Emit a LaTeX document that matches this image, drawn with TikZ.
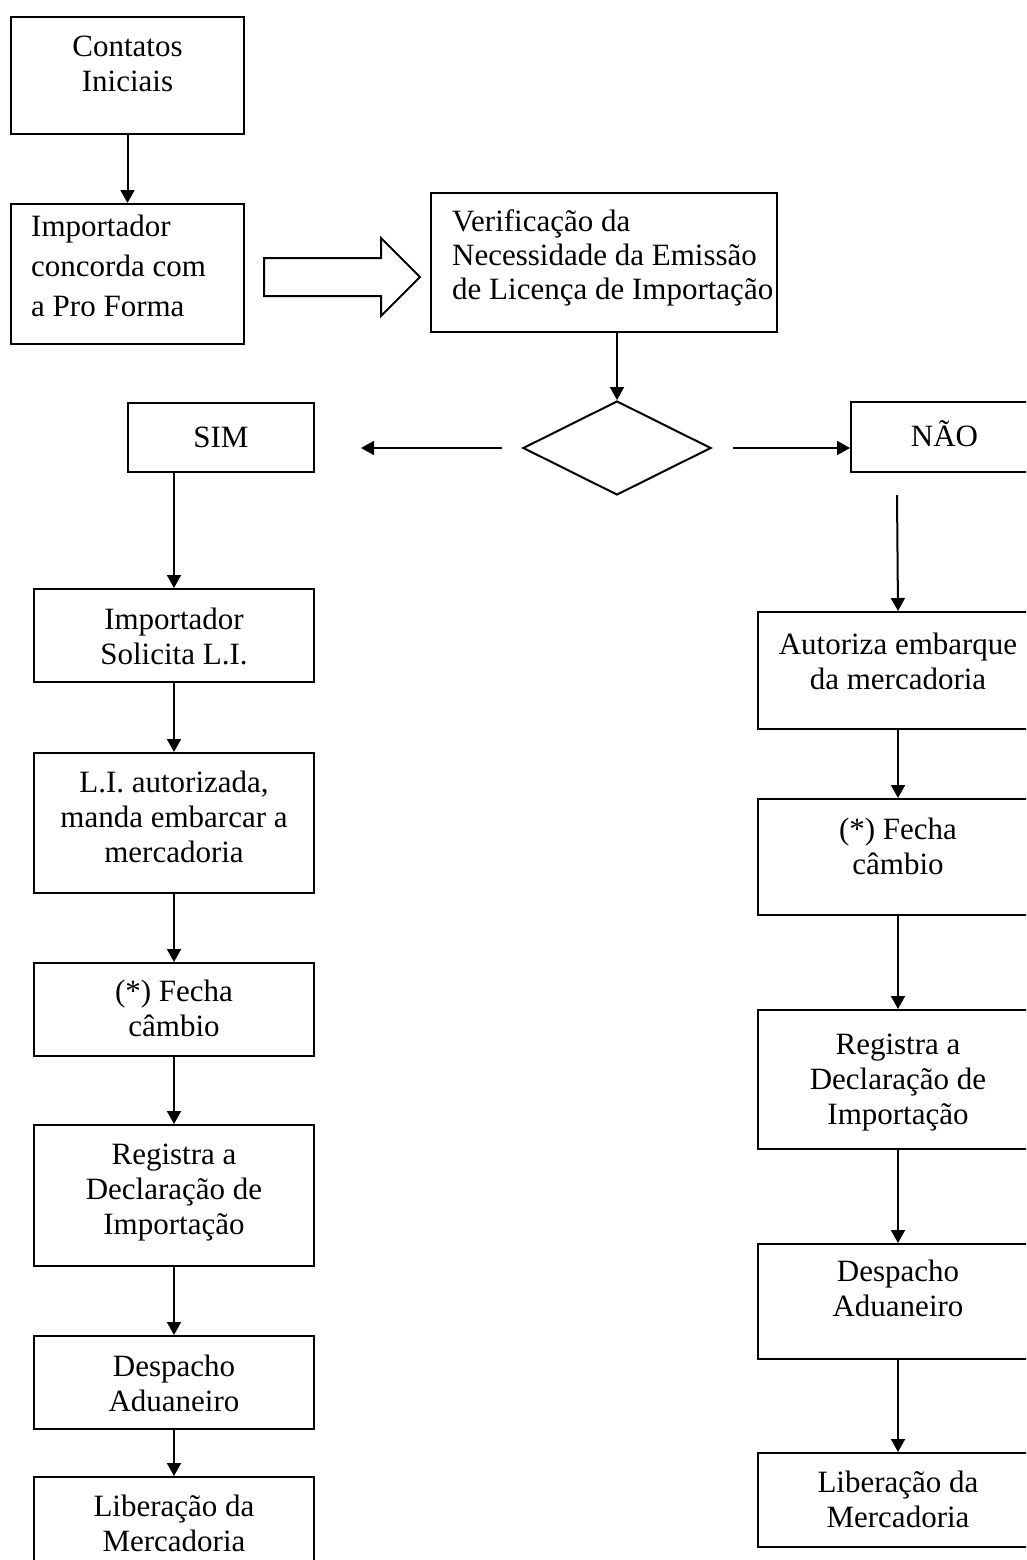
\documentclass[tikz,border=0pt]{standalone}
\usepackage{fontspec}
\setmainfont{Liberation Serif}
\usetikzlibrary{shapes.geometric,arrows.meta}
\begin{document}
\begin{tikzpicture}[x=1pt,y=-1pt,
  box/.style={draw, line width=2pt, rectangle, inner sep=0pt, anchor=north west},
  lbl/.style={font=\fontsize{31}{35}\selectfont, inner sep=0pt, align=center, anchor=north},
  lbll/.style={lbl, align=left, anchor=north west},
  flow/.style={line width=2pt, -{Triangle[length=13pt,width=14pt]}},
]
\useasboundingbox (0,0) rectangle (1026,1560);
\clip (0,0) rectangle (1026,1560);

% --- top part ---
\node[box, minimum width=233pt, minimum height=117pt] (c1) at (10,16) {};
\node[lbl] (c1t) at ([yshift=-16pt]c1.north) {\strut Contatos\\Iniciais};

\node[box, minimum width=233pt, minimum height=140pt] (c2) at (10,203) {};
\node[lbll, font=\fontsize{31}{40}\selectfont] (c2t) at ([xshift=21pt,yshift=-5.5pt]c2.north west) {\strut Importador\\concorda com\\a Pro Forma};

\node[box, minimum width=346pt, minimum height=139pt] (vf) at (430,192) {};
\node[lbll, font=\fontsize{31}{34}\selectfont] (vft) at ([xshift=22pt,yshift=-15.7pt]vf.north west) {\strut Verificação da\\Necessidade da Emissão\\de Licença de Importação};

% block arrow between the two upper boxes
\draw[line width=2pt, line join=miter] (264,258) -- (381,258) -- (381,238) -- (420,277)
  -- (381,316) -- (381,296) -- (264,296) -- cycle;

% decision
\node[diamond, draw, line width=2pt, inner sep=0pt, minimum width=188pt, minimum height=94pt] (dia) at (617,448) {};

\node[box, minimum width=186pt, minimum height=69pt] (sim) at (127,402) {};
\node[lbl, anchor=center] (simt) at (sim.center) {SIM};

\node[box, minimum width=187pt, minimum height=70pt] (nao) at (850,401) {};
\node[lbl, anchor=center] (naot) at ([yshift=3pt]nao.center) {NÃO};

\coordinate (ls) at (502,448);
\coordinate (le) at (361,448);
\coordinate (rs) at (733,448);
\coordinate (ns) at (897,495);

% --- left branch ---
\node[box, minimum width=280pt, minimum height=93pt]  (l1) at (33,588) {};
\node[lbl] (l1t) at ([yshift=-17pt]l1.north) {\strut Importador\\Solicita L.I.};
\node[box, minimum width=280pt, minimum height=140pt] (l2) at (33,752) {};
\node[lbl] (l2t) at ([yshift=-16pt]l2.north) {\strut L.I. autorizada,\\manda embarcar a\\mercadoria};
\node[box, minimum width=280pt, minimum height=93pt]  (l3) at (33,962) {};
\node[lbl] (l3t) at ([yshift=-15pt]l3.north) {\strut (*) Fecha\\câmbio};
\node[box, minimum width=280pt, minimum height=141pt] (l4) at (33,1124) {};
\node[lbl] (l4t) at ([yshift=-16pt]l4.north) {\strut Registra a\\Declaração de\\Importação};
\node[box, minimum width=280pt, minimum height=93pt]  (l5) at (33,1335) {};
\node[lbl] (l5t) at ([yshift=-17pt]l5.north) {\strut Despacho\\Aduaneiro};
\node[box, minimum width=280pt, minimum height=110pt] (l6) at (33,1476) {};
\node[lbl] (l6t) at ([yshift=-16pt]l6.north) {\strut Liberação da\\Mercadoria};

% --- right branch ---
\node[box, minimum width=280pt, minimum height=117pt] (r1) at (757,611) {};
\node[lbl] (r1t) at ([yshift=-19pt]r1.north) {\strut Autoriza embarque\\da mercadoria};
\node[box, minimum width=280pt, minimum height=116pt] (r2) at (757,798) {};
\node[lbl] (r2t) at ([yshift=-17pt]r2.north) {\strut (*) Fecha\\câmbio};
\node[box, minimum width=280pt, minimum height=139pt] (r3) at (757,1009) {};
\node[lbl] (r3t) at ([yshift=-21pt]r3.north) {\strut Registra a\\Declaração de\\Importação};
\node[box, minimum width=280pt, minimum height=115pt] (r4) at (757,1243) {};
\node[lbl] (r4t) at ([yshift=-14pt]r4.north) {\strut Despacho\\Aduaneiro};
\node[box, minimum width=280pt, minimum height=94pt]  (r5) at (757,1452) {};
\node[lbl] (r5t) at ([yshift=-16pt]r5.north) {\strut Liberação da\\Mercadoria};

% --- connectors ---
\draw[flow] (c1.south) -- (c2.north);
\draw[flow] (vf.south -| dia.north) -- (dia.north);
\draw[flow] (ls) -- (le);
\draw[flow] (rs) -- (rs -| nao.west);
\draw[flow] (sim.south -| l1.north) -- (l1.north);
\draw[flow] (l1.south) -- (l2.north);
\draw[flow] (l2.south) -- (l3.north);
\draw[flow] (l3.south) -- (l4.north);
\draw[flow] (l4.south) -- (l5.north);
\draw[flow] (l5.south) -- (l6.north);
\draw[flow] (ns) -- (r1.north);
\draw[flow] (r1.south) -- (r2.north);
\draw[flow] (r2.south) -- (r3.north);
\draw[flow] (r3.south) -- (r4.north);
\draw[flow] (r4.south) -- (r5.north);
\end{tikzpicture}
\end{document}
